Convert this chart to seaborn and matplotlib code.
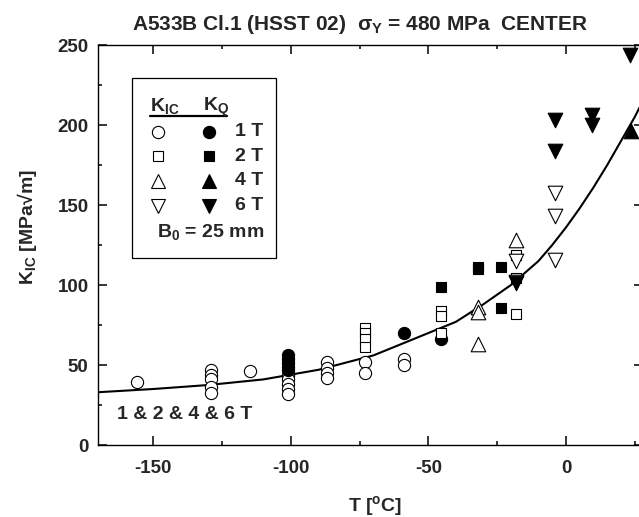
import numpy as np
import pandas as pd
import matplotlib
matplotlib.use('Agg')
import matplotlib.pyplot as plt
import seaborn as sns
from matplotlib.lines import Line2D
from matplotlib.patches import Rectangle

# ---------------- data ----------------
kic_1t_T = [-156, -129, -129, -129, -129, -129, -115, -101, -101, -101, -101, -101,
            -87, -87, -87, -87, -73, -73, -59, -59]
kic_1t_K = [39.5, 47, 44, 41, 36.5, 32.5, 46.5, 44, 41, 38, 35, 32,
            52, 48, 45, 42, 52, 45, 54, 50]
kq_1t_T = [-101, -101, -101, -101, -101, -59, -45.5]
kq_1t_K = [56.5, 54, 51.5, 49, 47, 70, 66.5]

kic_2t_T = [-73, -73, -73, -73, -45.5, -45.5, -45.5, -18, -18, -18]
kic_2t_K = [73, 70, 66, 61.5, 84, 80.5, 70, 119, 104.5, 82]
kq_2t_T = [-45.5, -32, -32, -23.5, -23.5]
kq_2t_K = [99, 110, 111.5, 111, 85.5]

kic_4t_T = [-18, -32, -32, -32]
kic_4t_K = [128, 86.5, 83, 63]
kq_4t_T = [23.8]
kq_4t_K = [196]

kic_6t_T = [-4, -4, -4, -18, -18]
kic_6t_K = [157.5, 143, 115.5, 115, 102]
kq_6t_T = [-4, -4, 9.5, 9.5, 23.3, -18]
kq_6t_K = [203, 183.5, 206.5, 200, 244, 101.5]

curve_T = [-170, -150, -130, -110, -90, -70, -50, -40, -30, -20, -10, -5, 0, 5, 10, 15, 20, 25, 30]
curve_K = [33, 35, 37.5, 41, 47, 56, 70, 77, 88, 100, 115, 125, 136, 148, 161, 175, 190, 205, 222]

x_major = [-150, -100, -50, 0]
x_minor = [-125, -75, -25, 25]
y_major = [0, 50, 100, 150, 200, 250]
y_minor = [25, 75, 125, 175, 225]

# ---------------- style ----------------
sns.set_style('ticks')
plt.rcParams['font.family'] = ['Liberation Sans', 'DejaVu Sans']
plt.rcParams['font.weight'] = 'bold'
plt.rcParams['axes.unicode_minus'] = False
plt.rcParams['mathtext.fontset'] = 'custom'
plt.rcParams['mathtext.rm'] = 'Liberation Sans:bold'
plt.rcParams['mathtext.bf'] = 'Liberation Sans:bold'
plt.rcParams['mathtext.it'] = 'Liberation Sans:bold'
plt.rcParams['mathtext.default'] = 'bf'

W, H = 639, 517
def fx(x):
    return x / W
def fy(y):
    return 1 - y / H

fig = plt.figure(figsize=(W / 100, H / 100), dpi=100)
ax = fig.add_axes([fx(98.4), fy(445), (643 - 98.4) / W, 400 / H])

sns.lineplot(x=curve_T, y=curve_K, color='black', linewidth=1.5, ax=ax, zorder=2)

series = [
    (kic_1t_T, kic_1t_K, 'o', 77, 'white'),
    (kq_1t_T, kq_1t_K, 'o', 77, 'black'),
    (kic_2t_T, kic_2t_K, 's', 52, 'white'),
    (kq_2t_T, kq_2t_K, 's', 52, 'black'),
    (kic_4t_T, kic_4t_K, '^', 110, 'white'),
    (kq_4t_T, kq_4t_K, '^', 110, 'black'),
    (kic_6t_T, kic_6t_K, 'v', 110, 'white'),
    (kq_6t_T, kq_6t_K, 'v', 110, 'black'),
]
for i, (tt, kk, m, s, fc) in enumerate(series):
    df = pd.DataFrame({'T': tt, 'K': kk})
    sns.scatterplot(data=df, x='T', y='K', marker=m, s=s, facecolor=fc,
                    edgecolor='black', linewidth=0.8, ax=ax, legend=False,
                    zorder=3 + i, clip_on=False)

ax.set_xlim(-170, 28)
ax.set_ylim(0, 250)
ax.set_xticks(x_major)
ax.set_xticks(x_minor, minor=True)
ax.set_yticks(y_major)
ax.set_yticks(y_minor, minor=True)
ax.tick_params(which='both', direction='in', top=True, right=True, width=1.1,
               color='black')
ax.tick_params(which='major', length=6.5)
ax.tick_params(which='minor', length=3)
ax.tick_params(axis='x', which='major', labelsize=13.5, pad=11)
ax.tick_params(axis='y', which='major', labelsize=13.5, pad=7)
for sp in ax.spines.values():
    sp.set_linewidth(1.0)
    sp.set_color('black')
ax.set_xlabel('')
ax.set_ylabel('')

# ---------------- texts ----------------
fig.text(fx(131.7), fy(30), r'A533B Cl.1 (HSST 02)  σ$_{\mathbf{Y}}$ = 480 MPa  CENTER',
         fontsize=15, fontweight='bold', ha='left', va='baseline')
fig.text(fx(375), fy(506), r'T [$^{\mathbf{o}}$C]', fontsize=14, fontweight='bold',
         ha='center', va='center')
fig.text(fx(27), fy(227.5), r'K$_{\mathbf{IC}}$ [MPa√m]', fontsize=14, fontweight='bold',
         ha='center', va='center', rotation=90)
fig.text(fx(117), fy(419), '1 & 2 & 4 & 6 T', fontsize=14, fontweight='bold',
         ha='left', va='baseline')

# ---------------- legend box ----------------
fig.add_artist(Rectangle((fx(132.3), fy(258.3)), (275.7 - 132.3) / W, (258.3 - 77.7) / H,
                         transform=fig.transFigure, facecolor='white', edgecolor='black',
                         linewidth=0.9, zorder=20))
fig.text(fx(150), fy(111), r'$\mathbf{K_{IC}}$', fontsize=14, ha='left', va='baseline', zorder=21)
fig.text(fx(203), fy(111), r'$\mathbf{K_{Q}}$', fontsize=14, ha='left', va='baseline', zorder=21)
fig.add_artist(Line2D([fx(150), fx(227)], [fy(116), fy(116)], transform=fig.transFigure,
                      color='black', linewidth=1.6, zorder=21))
rows = [('o', 8.8, 131.5, '1 T'), ('s', 7.2, 156, '2 T'), ('^', 10.5, 180.5, '4 T'),
        ('v', 10.5, 205.5, '6 T')]
for m, ms, yy, lab in rows:
    fig.add_artist(Line2D([fx(158.3)], [fy(yy)], transform=fig.transFigure, marker=m,
                          markersize=ms, markerfacecolor='white', markeredgecolor='black',
                          markeredgewidth=0.8, linestyle='none', zorder=21))
    fig.add_artist(Line2D([fx(209.3)], [fy(yy)], transform=fig.transFigure, marker=m,
                          markersize=ms, markerfacecolor='black', markeredgecolor='black',
                          markeredgewidth=0.8, linestyle='none', zorder=21))
    fig.text(fx(235), fy(yy), lab, fontsize=14, fontweight='bold', ha='left', va='center',
             zorder=21)
fig.text(fx(156.7), fy(237), r'$\mathbf{B_0}$ = 25 mm', fontsize=14, fontweight='bold',
         ha='left', va='baseline', zorder=21)

fig.savefig('out.png', dpi=100)
